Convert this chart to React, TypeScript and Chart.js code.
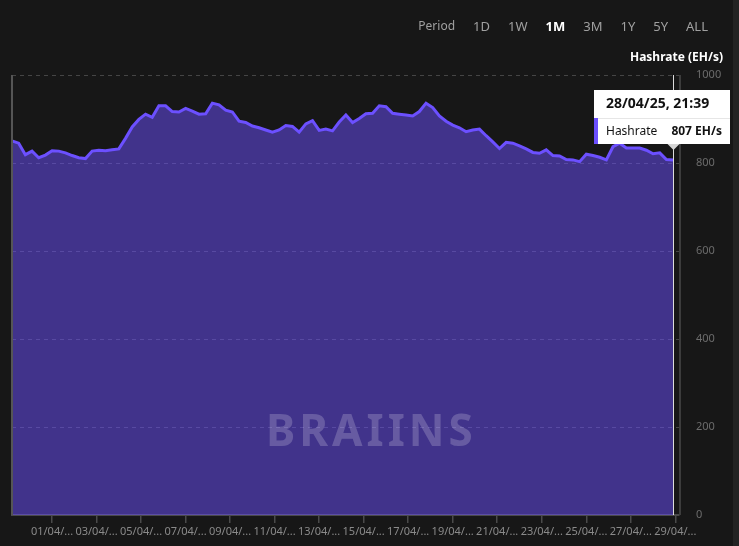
import { useEffect, useRef } from "react";
import { Chart, registerables, Plugin } from "chart.js";

Chart.register(...registerables);

// hashrate samples (EH/s), oldest first, last one is 28/04/25 21:39
const hashrate = [
  850, 845, 819, 827, 812, 818, 828, 827, 823, 817,
  812, 810, 827, 829, 828, 830, 832, 856, 882, 899,
  911, 904, 930, 930, 917, 916, 924, 918, 911, 912,
  936, 932, 920, 916, 895, 892, 884, 880, 875, 870,
  875, 885, 883, 870, 889, 896, 874, 877, 873, 893,
  909, 892, 901, 912, 913, 930, 928, 913, 911, 909,
  907, 917, 936, 926, 907, 895, 886, 880, 871, 875,
  877, 862, 848, 833, 847, 845, 839, 832, 824, 822,
  830, 817, 816, 808, 807, 803, 820, 817, 813, 807,
  837, 845, 834, 834, 834, 829, 821, 823, 808, 807,
];
// hours relative to 01/04/25 00:00
const firstSampleHour = -43.15;
const sampleStepHours = 7.2;
const axisEndHour = 676;

const tickHours = [0, 48, 96, 144, 192, 240, 288, 336, 384, 432, 480, 528, 576, 624, 672];
const tickLabels = [
  "01/04/...", "03/04/...", "05/04/...", "07/04/...", "09/04/...",
  "11/04/...", "13/04/...", "15/04/...", "17/04/...", "19/04/...",
  "21/04/...", "23/04/...", "25/04/...", "27/04/...", "29/04/...",
];
const yTicks = [0, 200, 400, 600, 800, 1000];

const periods = ["1D", "1W", "1M", "3M", "1Y", "5Y", "ALL"];
const activePeriod = "1M";
const seriesName = "Hashrate";
const unit = "EH/s";
const tooltipTitle = "28/04/25, 21:39";

const LINE = "#6c50ff";
const FONT = "'Noto Sans', sans-serif";

const pinnedTooltip: Plugin<"line"> = {
  id: "pinnedTooltip",
  afterDatasetsDraw(chart) {
    const { ctx, chartArea } = chart;
    ctx.save();
    // frame lines left and right
    ctx.lineWidth = 2;
    ctx.strokeStyle = "#555";
    ctx.beginPath();
    ctx.moveTo(chartArea.left, chartArea.top);
    ctx.lineTo(chartArea.left, chartArea.bottom);
    ctx.stroke();
    ctx.strokeStyle = "#3c3c3c";
    ctx.beginPath();
    ctx.moveTo(chartArea.right + 1, chartArea.top);
    ctx.lineTo(chartArea.right + 1, chartArea.bottom);
    ctx.stroke();

    const idx = hashrate.length - 1;
    const pt = chart.getDatasetMeta(0).data[idx];
    if (!pt) {
      ctx.restore();
      return;
    }
    const px = Math.round(pt.x) + 0.5;
    const py = pt.y;

    ctx.strokeStyle = "rgba(255,255,255,0.85)";
    ctx.lineWidth = 1;
    ctx.beginPath();
    ctx.moveTo(px, chartArea.top);
    ctx.lineTo(px, chartArea.bottom);
    ctx.stroke();

    const w = 136;
    const h = 54;
    const bottom = Math.round(py - 16);
    const top = bottom - h;
    const left = Math.min(px - w / 2, chart.width - 9 - w);

    ctx.fillStyle = "#d6d6d6";
    ctx.beginPath();
    ctx.moveTo(px - 6, bottom);
    ctx.lineTo(px + 6, bottom);
    ctx.lineTo(px, bottom + 6);
    ctx.closePath();
    ctx.fill();

    ctx.fillStyle = "#ffffff";
    ctx.fillRect(left, top, w, h);
    ctx.fillStyle = "#e6e6e6";
    ctx.fillRect(left, top + 28, w, 1);
    ctx.fillStyle = LINE;
    ctx.fillRect(left, top + 28, 4, h - 28);

    ctx.textBaseline = "middle";
    ctx.fillStyle = "#111";
    ctx.font = `700 14px ${FONT}`;
    ctx.textAlign = "left";
    ctx.fillText(tooltipTitle, left + 12, top + 14);
    ctx.font = `400 12px ${FONT}`;
    ctx.fillText(seriesName, left + 12, top + 42);
    ctx.font = `700 12px ${FONT}`;
    ctx.textAlign = "right";
    ctx.fillText(`${hashrate[idx]} ${unit}`, left + w - 8, top + 42);
    ctx.restore();
  },
};

const HashrateChart = () => {
  const chartRef = useRef<Chart | null>(null);
  const chartCanvas = useRef<HTMLCanvasElement | null>(null);

  useEffect(() => {
    if (chartRef.current) {
      chartRef.current.destroy();
    }
    const context = chartCanvas.current?.getContext("2d");
    if (context) {
      chartRef.current = new Chart(context, {
        type: "line",
        data: {
          datasets: [
            {
              label: seriesName,
              data: hashrate.map((v, i) => ({ x: firstSampleHour + i * sampleStepHours, y: v })),
              borderColor: LINE,
              borderWidth: 3,
              backgroundColor: "rgba(108, 80, 255, 0.5)",
              fill: "origin",
              pointRadius: 0,
              tension: 0,
            },
          ],
        },
        options: {
          animation: false,
          responsive: false,
          layout: { padding: { top: 75, left: 12, right: 8, bottom: 0 } },
          plugins: {
            legend: { display: false },
            tooltip: { enabled: false },
          },
          scales: {
            x: {
              type: "linear",
              min: firstSampleHour,
              max: axisEndHour,
              afterBuildTicks: (scale) => {
                scale.ticks = tickHours.map((v) => ({ value: v }));
              },
              afterFit: (scale) => {
                scale.height = 31;
              },
              grid: {
                drawOnChartArea: false,
                drawTicks: true,
                tickLength: 8,
                color: "#4a4a4a",
                lineWidth: 1.5,
              },
              border: { color: "#4a4a4a", width: 2 },
              ticks: {
                autoSkip: false,
                maxRotation: 0,
                padding: 2,
                color: "#8a8a8a",
                font: { family: FONT, size: 11 },
                callback: (_v, i) => tickLabels[i],
              },
            },
            y: {
              position: "right",
              min: 0,
              max: 1000,
              afterBuildTicks: (scale) => {
                scale.ticks = yTicks.map((v) => ({ value: v }));
              },
              afterFit: (scale) => {
                scale.width = 52;
              },
              grid: {
                color: "rgba(255,255,255,0.2)",
                drawTicks: false,
                lineWidth: 1,
              },
              // in Chart.js 4 the grid dash lives on border; the solid frame is drawn by the plugin
              border: { display: false, dash: [4, 4] },
              ticks: {
                padding: 17,
                color: "#6c6c6c",
                font: { family: FONT, size: 11 },
                callback: (v) => String(v),
              },
            },
          },
        },
        plugins: [pinnedTooltip],
      });
    }
    return () => {
      if (chartRef.current) {
        chartRef.current.destroy();
        chartRef.current = null;
      }
    };
  }, []);

  return <canvas ref={chartCanvas} width={739} height={546} style={{ position: "absolute", left: 0, top: 0 }} />;
};

const App = () => {
  return (
    <div
      style={{
        position: "fixed",
        left: 0,
        top: 0,
        width: 739,
        height: 546,
        background: "#171717",
        fontFamily: FONT,
        overflow: "hidden",
      }}
    >
      <HashrateChart />
      <div
        style={{
          position: "absolute",
          right: 31,
          top: 17,
          height: 18,
          lineHeight: "18px",
          display: "flex",
          gap: 18,
          fontSize: 13,
          color: "#a0a0a0",
        }}
      >
        <span style={{ fontSize: 12 }}>Period</span>
        {periods.map((p) => (
          <span key={p} style={p === activePeriod ? { color: "#fff", fontWeight: 700 } : undefined}>
            {p}
          </span>
        ))}
      </div>
      <div
        style={{
          position: "absolute",
          right: 16,
          top: 49,
          lineHeight: "16px",
          fontSize: 12,
          fontWeight: 700,
          color: "#fff",
        }}
      >
        Hashrate (EH/s)
      </div>
      <div
        style={{
          position: "absolute",
          left: 266,
          top: 404,
          lineHeight: "50px",
          fontSize: 44,
          fontWeight: 700,
          letterSpacing: 4,
          color: "rgba(255,255,255,0.2)",
          pointerEvents: "none",
        }}
      >
        BRAIINS
      </div>
      <div style={{ position: "absolute", right: 0, top: 0, width: 6, height: 546, background: "#232323" }} />
    </div>
  );
};

export default App;
